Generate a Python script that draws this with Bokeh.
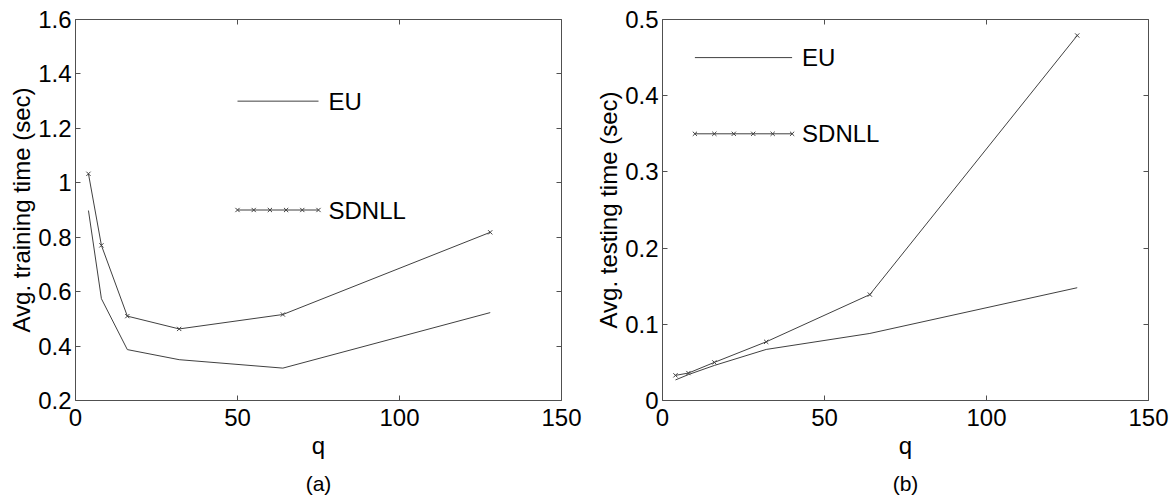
import numpy as np
from bokeh.plotting import figure
from bokeh.layouts import row
from bokeh.models import LinearAxis, FixedTicker, Range1d, Title
from bokeh.core.properties import value
from bokeh.embed import file_html
from bokeh.resources import INLINE

# Number of subspaces q and the measured average times (seconds)
q = [4, 8, 16, 32, 64, 128]
train_eu = [0.898, 0.574, 0.387, 0.350, 0.319, 0.523]
train_sdnll = [1.033, 0.770, 0.510, 0.463, 0.516, 0.818]
test_eu = [0.027, 0.034, 0.046, 0.067, 0.088, 0.148]
test_sdnll = [0.033, 0.036, 0.050, 0.077, 0.139, 0.479]

series_names = ["EU", "SDNLL"]

x_ticks = [0, 50, 100, 150]
x_tick_labels = ["0", "50", "100", "150"]
train_y_ticks = [0.2, 0.4, 0.6, 0.8, 1.0, 1.2, 1.4, 1.6]
train_y_labels = ["0.2", "0.4", "0.6", "0.8", "1", "1.2", "1.4", "1.6"]
test_y_ticks = [0.0, 0.1, 0.2, 0.3, 0.4, 0.5]
test_y_labels = ["0", "0.1", "0.2", "0.3", "0.4", "0.5"]

FONT = "Liberation Sans"
INK = "#404040"
FRAME = "#505050"
FRAME_H = 381          # plot-area height in pixels


def style_axis(ax, ticks, labels, show_labels):
    ax.ticker = FixedTicker(ticks=ticks)
    ax.major_label_overrides = dict(zip(ticks, labels))
    ax.major_tick_in = 5
    ax.major_tick_out = 0
    ax.minor_tick_line_color = None
    ax.axis_line_color = FRAME
    ax.major_tick_line_color = FRAME
    ax.axis_label_text_font = FONT
    ax.axis_label_text_font_style = "normal"
    ax.axis_label_text_font_size = "24px"
    ax.axis_label_text_color = "black"
    if show_labels:
        ax.major_label_text_font = FONT
        ax.major_label_text_font_size = "24px"
        ax.major_label_text_color = "black"
    else:
        ax.major_label_text_font_size = "1px"
        ax.major_label_text_color = None


def panel(width, left, right, y_range, y_ticks, y_labels, y_title,
          eu, sdnll, key_x, key_y, caption):
    p = figure(width=width, height=504, output_backend="svg", toolbar_location=None,
               x_range=Range1d(0, 150), y_range=Range1d(*y_range),
               x_axis_location=None, y_axis_location=None,
               min_border_left=left, min_border_right=right,
               min_border_top=19, min_border_bottom=504 - 19 - FRAME_H)
    p.grid.visible = False
    p.outline_line_color = None
    p.background_fill_color = "white"
    p.border_fill_color = "white"

    bottom = LinearAxis(axis_label="q")
    style_axis(bottom, x_ticks, x_tick_labels, True)
    bottom.major_label_standoff = 8
    bottom.axis_label_standoff = 3
    p.add_layout(bottom, "below")

    # panel caption centred under the x axis
    p.add_layout(Title(text=caption, align="center", standoff=16,
                       text_font=FONT, text_font_size="21px",
                       text_font_style="normal", text_color="black"), "below")

    left_ax = LinearAxis(axis_label=y_title)
    style_axis(left_ax, y_ticks, y_labels, True)
    left_ax.major_label_standoff = 4
    left_ax.axis_label_standoff = 0
    p.add_layout(left_ax, "left")

    top = LinearAxis()
    style_axis(top, x_ticks, x_tick_labels, False)
    top.major_label_standoff = 0
    p.add_layout(top, "above")

    right_ax = LinearAxis()
    style_axis(right_ax, y_ticks, y_labels, False)
    right_ax.major_label_standoff = 0
    p.add_layout(right_ax, "right")

    # data series
    p.line(q, eu, line_color=INK, line_width=1)
    p.line(q, sdnll, line_color=INK, line_width=1)
    p.scatter(q, sdnll, marker="x", size=6, line_color=INK, line_width=1)

    # in-axes key: plain line for EU, line with six crosses for SDNLL
    x0, x1 = key_x
    p.line([x0, x1], [key_y[0], key_y[0]], line_color=INK, line_width=1)
    p.line([x0, x1], [key_y[1], key_y[1]], line_color=INK, line_width=1)
    p.scatter(np.linspace(x0, x1, 6), [key_y[1]] * 6, marker="x", size=6,
              line_color=INK, line_width=1)
    p.text(x=[x1, x1], y=key_y, text=series_names, x_offset=10,
           text_baseline="middle", text_align="left",
           text_font=value(FONT), text_font_size="24px", text_color="black")
    return p


pa = panel(586, 75, 25, (0.2, 1.6), train_y_ticks, train_y_labels,
           "Avg. training time (sec)", train_eu, train_sdnll,
           (50, 75), [1.3, 0.9], "(a)")
pb = panel(587, 76, 25, (0.0, 0.5), test_y_ticks, test_y_labels,
           "Avg. testing time (sec)", test_eu, test_sdnll,
           (10, 40), [0.45, 0.35], "(b)")

layout = row(pa, pb, spacing=0)
open("out.html", "w").write(file_html(layout, INLINE))
